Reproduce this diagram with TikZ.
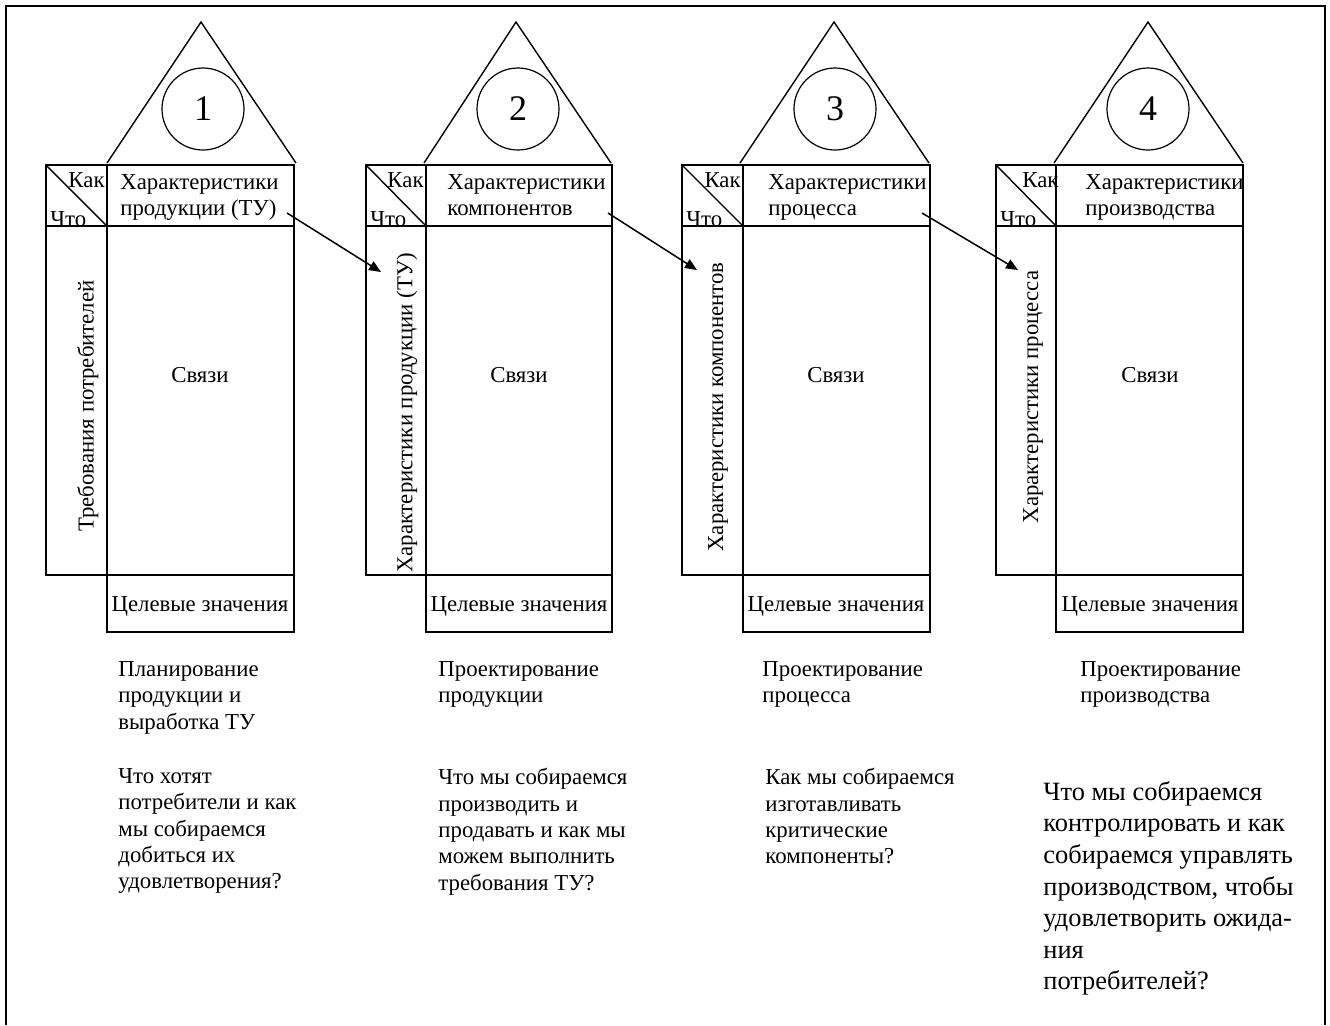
\documentclass[tikz,border=0pt]{standalone}
\usepackage{fontspec}
\setmainfont{Liberation Serif}
\usetikzlibrary{arrows.meta}

\begin{document}
\begin{tikzpicture}[x=0.5pt, y=-0.5pt, >={Triangle[length=6pt,width=5pt]},
    box/.style={line width=1pt},
    roof/.style={line width=0.7pt},
    txt/.style={inner sep=0pt, align=left, font=\fontsize{11.4}{13.2}\selectfont},
    bigtxt/.style={inner sep=0pt, align=left, font=\fontsize{13.2}{15.8}\selectfont},
    num/.style={circle, draw, line width=0.6pt, minimum size=41pt, inner sep=0pt,
                font=\fontsize{18}{20}\selectfont},
    link/.style={->, line width=0.75pt}]
  \useasboundingbox (0,0) rectangle (1330,1025);
  % --- рамка ---
  \draw[line width=1.3pt] (6,1025) -- (6,6) -- (1325,6) -- (1325,1025);

  % --- 1: планирование продукции ---
  \draw[roof] (107,163) -- (201,22) -- (296,163);
  \node[num] (n1) at (203,109) {1};
  \draw[box] (46,165) rectangle (107,575);
  \draw[box] (107,165) rectangle (294,632);
  \draw[box] (46,226) -- (294,226);
  \draw[box] (107,575) -- (294,575);
  \draw[line width=0.7pt] (46,165) -- (107,226);
  \node[txt, anchor=base east] (kak1) at (105,187) {Как};
  \node[txt, anchor=base west] (chto1) at (50,226) {Что};
  \node[txt, anchor=north west] (head1) at (120,174) {Характеристики\\продукции (ТУ)};
  \node[txt, rotate=90] (col1) at (88,406) {Требования потребителей};
  \node[txt] (rel1) at (200,375) {Связи};
  \node[txt] (goal1) at (200,606) {Целевые значения};
  \node[txt, anchor=north west] (stage1) at (118,661) {Планирование\\продукции и\\выработка ТУ};
  \node[txt, anchor=north west] (q1) at (118,768)
    {Что хотят\\потребители и как\\мы собираемся\\добиться их\\удовлетворения?};

  % --- 2: проектирование продукции ---
  \draw[roof] (424,163) -- (516,22) -- (611,163);
  \node[num] (n2) at (518,109) {2};
  \draw[box] (366,165) rectangle (426,575);
  \draw[box] (426,165) rectangle (612,632);
  \draw[box] (366,226) -- (612,226);
  \draw[box] (426,575) -- (612,575);
  \draw[line width=0.7pt] (366,165) -- (426,226);
  \node[txt, anchor=base east] (kak2) at (424,187) {Как};
  \node[txt, anchor=base west] (chto2) at (370,226) {Что};
  \node[txt, anchor=north west] (head2) at (447,174) {Характеристики\\компонентов};
  \node[txt, rotate=90] (col2) at (407,413) {Характеристики продукции (ТУ)};
  \node[txt] (rel2) at (519,375) {Связи};
  \node[txt] (goal2) at (519,606) {Целевые значения};
  \node[txt, anchor=north west] (stage2) at (438,661) {Проектирование\\продукции};
  \node[txt, anchor=north west] (q2) at (438,768)
    {Что мы собираемся\\производить и\\продавать и как мы\\можем выполнить\\требования ТУ?};

  % --- 3: проектирование процесса ---
  \draw[roof] (740,163) -- (834,22) -- (929,163);
  \node[num] (n3) at (835,109) {3};
  \draw[box] (682,165) rectangle (743,575);
  \draw[box] (743,165) rectangle (930,632);
  \draw[box] (682,226) -- (930,226);
  \draw[box] (743,575) -- (930,575);
  \draw[line width=0.7pt] (682,165) -- (743,226);
  \node[txt, anchor=base east] (kak3) at (741,187) {Как};
  \node[txt, anchor=base west] (chto3) at (686,226) {Что};
  \node[txt, anchor=north west] (head3) at (768,174) {Характеристики\\процесса};
  \node[txt, rotate=90] (col3) at (718,407) {Характеристики компонентов};
  \node[txt] (rel3) at (836,375) {Связи};
  \node[txt] (goal3) at (836,606) {Целевые значения};
  \node[txt, anchor=north west] (stage3) at (762,661) {Проектирование\\процесса};
  \node[txt, anchor=north west] (q3) at (765,768)
    {Как мы собираемся\\изготавливать\\критические\\компоненты?};

  % --- 4: проектирование производства ---
  \draw[roof] (1054,163) -- (1148,22) -- (1243,163);
  \node[num] (n4) at (1148,109) {4};
  \draw[box] (996,165) rectangle (1056,575);
  \draw[box] (1056,165) rectangle (1243,632);
  \draw[box] (996,226) -- (1243,226);
  \draw[box] (1056,575) -- (1243,575);
  \draw[line width=0.7pt] (996,165) -- (1056,226);
  \node[txt, anchor=base west] (kak4) at (1022,187) {Как};
  \node[txt, anchor=base west] (chto4) at (1000,226) {Что};
  \node[txt, anchor=north west] (head4) at (1085,174) {Характеристики\\производства};
  \node[txt, rotate=90] (col4) at (1033,397) {Характеристики процесса};
  \node[txt] (rel4) at (1150,375) {Связи};
  \node[txt] (goal4) at (1150,606) {Целевые значения};
  \node[txt, anchor=north west] (stage4) at (1080,661) {Проектирование\\производства};
  \node[bigtxt, anchor=north west] (q4) at (1043,781)
    {Что мы собираемся\\контролировать и как\\собираемся управлять\\производством, чтобы\\удовлетворить ожида-\\ния\\потребителей?};

  % --- переходы между матрицами ---
  \coordinate (from1) at (287,213);
  \coordinate (to2) at (381,272);
  \coordinate (from2) at (608,213);
  \coordinate (to3) at (697,270);
  \coordinate (from3) at (922,213);
  \coordinate (to4) at (1018,270);
  \draw[link] (from1) -- (to2);
  \draw[link] (from2) -- (to3);
  \draw[link] (from3) -- (to4);
\end{tikzpicture}
\end{document}
